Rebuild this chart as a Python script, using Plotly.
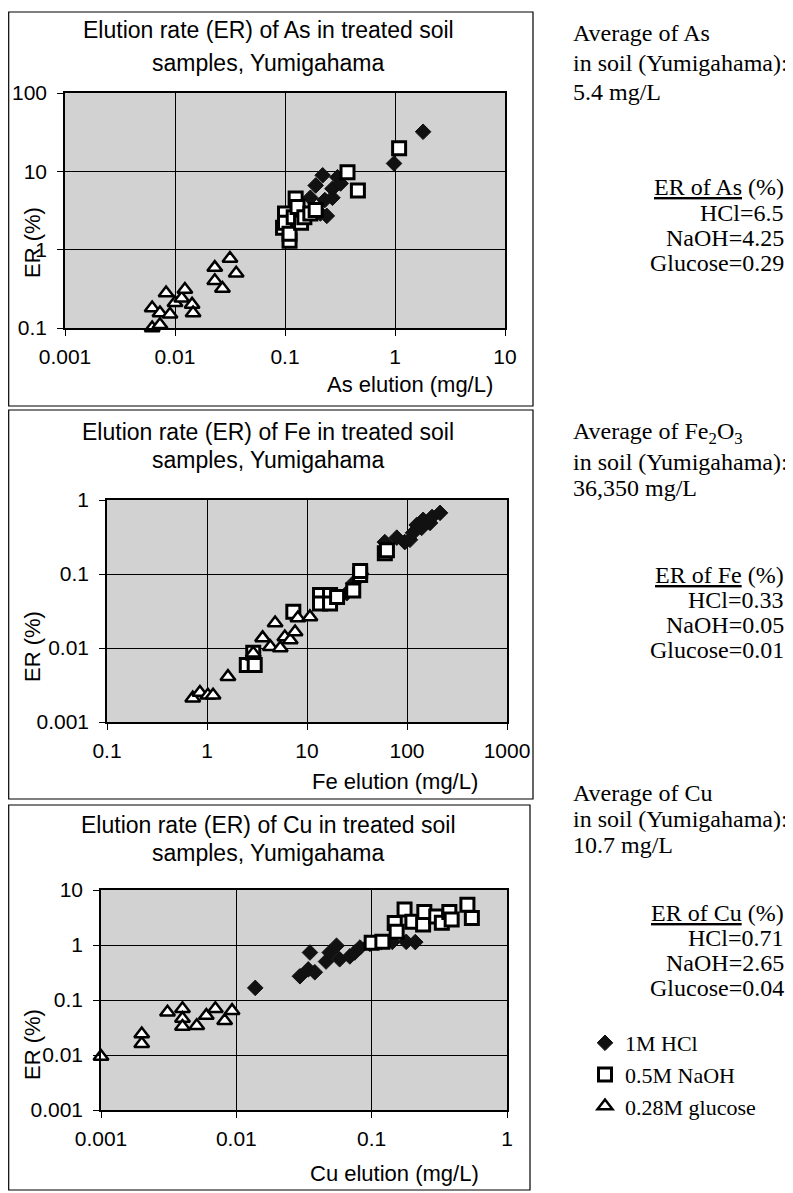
import plotly.graph_objects as go

# The page body has an 8px margin, so the figure is drawn 8px in from the window corner.
OFF = 8
W, H = 793 - OFF, 1193 - OFF

# ---------------- data ----------------
# As panel
as_hcl_x = [0.17, 0.19, 0.21, 0.22, 0.23, 0.24, 0.27, 0.27, 0.30, 0.32, 0.98, 1.8]
as_hcl_y = [4.6, 6.6, 2.9, 8.9, 4.3, 2.7, 4.6, 6.0, 8.4, 7.0, 12.6, 32]
as_naoh_x = [0.096, 0.10, 0.10, 0.11, 0.11, 0.12, 0.125, 0.13, 0.14, 0.15, 0.17, 0.19, 0.37, 0.46, 1.09]
as_naoh_y = [1.9, 2.9, 2.2, 1.3, 1.6, 2.6, 4.5, 3.5, 2.2, 2.6, 2.9, 3.2, 9.7, 5.7, 19.7]
as_glu_x = [0.0062, 0.0062, 0.0073, 0.0073, 0.0083, 0.0090, 0.010, 0.0115, 0.0123, 0.0143, 0.0146,
            0.023, 0.023, 0.027, 0.0316, 0.036]
as_glu_y = [0.10, 0.18, 0.11, 0.155, 0.28, 0.15, 0.21, 0.24, 0.31, 0.20, 0.155,
            0.59, 0.40, 0.32, 0.77, 0.50]

# Fe panel
fe_hcl_x = [25, 29, 35, 60, 79, 95, 107, 115, 125, 140, 145, 170, 178, 214]
fe_hcl_y = [0.055, 0.075, 0.10, 0.27, 0.31, 0.27, 0.29, 0.36, 0.46, 0.42, 0.54, 0.49, 0.59, 0.67]
fe_naoh_x = [2.5, 2.9, 3.0, 7.3, 13.5, 13.5, 17, 17, 20, 29, 34, 34, 60, 63]
fe_naoh_y = [0.0059, 0.0086, 0.0059, 0.031, 0.052, 0.040, 0.052, 0.040, 0.049, 0.060, 0.097, 0.11, 0.19, 0.21]
fe_glu_x = [0.72, 0.85, 1.02, 1.15, 1.62, 2.9, 3.6, 4.3, 4.8, 5.4, 6.0, 6.8, 7.6, 8.1, 10.7]
fe_glu_y = [0.0021, 0.0025, 0.0023, 0.0023, 0.0041, 0.0085, 0.0137, 0.0104, 0.0218, 0.0100,
            0.0141, 0.0128, 0.0164, 0.0254, 0.0263]

# Cu panel
cu_hcl_x = [0.0138, 0.0295, 0.034, 0.035, 0.038, 0.046, 0.049, 0.055, 0.058, 0.069, 0.075,
            0.082, 0.097, 0.118, 0.142, 0.18, 0.21]
cu_hcl_y = [0.166, 0.27, 0.36, 0.73, 0.32, 0.50, 0.73, 0.97, 0.55, 0.62, 0.73,
            0.90, 1.05, 1.13, 1.14, 1.14, 1.13]
cu_naoh_x = [0.10, 0.12, 0.148, 0.153, 0.175, 0.20, 0.24, 0.245, 0.30, 0.33, 0.375, 0.39, 0.51, 0.55]
cu_naoh_y = [1.10, 1.14, 2.5, 1.75, 4.4, 2.65, 2.35, 4.0, 3.3, 2.55, 4.0, 2.9, 5.4, 3.1]
cu_glu_x = [0.001, 0.002, 0.002, 0.0031, 0.004, 0.004, 0.004, 0.0051, 0.006, 0.007, 0.0082, 0.0093]
cu_glu_y = [0.0094, 0.016, 0.024, 0.060, 0.069, 0.046, 0.033, 0.034, 0.052, 0.069, 0.042, 0.064]

series_names = ["1M HCl", "0.5M NaOH", "0.28M glucose"]

# ticks
as_xticks = [0.001, 0.01, 0.1, 1, 10]
as_xtext = ["0.001", "0.01", "0.1", "1", "10"]
as_yticks = [0.1, 1, 10, 100]
as_ytext = ["0.1", "1", "10", "100"]
fe_xticks = [0.1, 1, 10, 100, 1000]
fe_xtext = ["0.1", "1", "10", "100", "1000"]
fe_yticks = [0.001, 0.01, 0.1, 1]
fe_ytext = ["0.001", "0.01", "0.1", "1"]
cu_xticks = [0.001, 0.01, 0.1, 1]
cu_xtext = ["0.001", "0.01", "0.1", "1"]
cu_yticks = [0.001, 0.01, 0.1, 1, 10]
cu_ytext = ["0.001", "0.01", "0.1", "1", "10"]

# side texts
titles = ["Elution rate (ER) of As in treated soil",
          "Elution rate (ER) of Fe in treated soil",
          "Elution rate (ER) of Cu in treated soil"]
subtitle = "samples, Yumigahama"
xtitles = ["As elution (mg/L)", "Fe elution (mg/L)", "Cu elution (mg/L)"]
avg_lines = [["Average of As", "in soil (Yumigahama):", "5.4 mg/L"],
             ["Average of Fe<sub>2</sub>O<sub>3</sub>", "in soil (Yumigahama):", "36,350 mg/L"],
             ["Average of Cu", "in soil (Yumigahama):", "10.7 mg/L"]]
er_heads = ["<u>ER of As</u> (%)", "<u>ER of Fe</u> (%)", "<u>ER of Cu</u> (%)"]
er_lines = [["HCl=6.5", "NaOH=4.25", "Glucose=0.29"],
            ["HCl=0.33", "NaOH=0.05", "Glucose=0.01"],
            ["HCl=0.71", "NaOH=2.65", "Glucose=0.04"]]

# ---------------- layout geometry (window pixels) ----------------
def px(x):
    return (x - OFF) / W

def py(y):
    return 1 - (y - OFF) / H

panels = [
    dict(data=[(as_hcl_x, as_hcl_y), (as_naoh_x, as_naoh_y), (as_glu_x, as_glu_y)],
         xt=(as_xticks, as_xtext), yt=(as_yticks, as_ytext),
         xr=[-3, 1], yr=[-1, 2], xd=(65, 505), yd=(93, 328),
         frame=(8.7, 12, 533, 406), t1=30, t2=63, xtit=(410, 384), ytit=243,
         avg=(33, 63, 92), er=(187, 213, 238, 263)),
    dict(data=[(fe_hcl_x, fe_hcl_y), (fe_naoh_x, fe_naoh_y), (fe_glu_x, fe_glu_y)],
         xt=(fe_xticks, fe_xtext), yt=(fe_yticks, fe_ytext),
         xr=[-1, 3], yr=[-3, 0], xd=(107, 507), yd=(500, 722),
         frame=(8.7, 410, 533, 799), t1=432, t2=460, xtit=(395, 781), ytit=647,
         avg=(433, 462, 488), er=(575, 600, 625, 650)),
    dict(data=[(cu_hcl_x, cu_hcl_y), (cu_naoh_x, cu_naoh_y), (cu_glu_x, cu_glu_y)],
         xt=(cu_xticks, cu_xtext), yt=(cu_yticks, cu_ytext),
         xr=[-3, 0], yr=[-3, 1], xd=(101, 507), yd=(890, 1110),
         frame=(8.7, 805, 530, 1190), t1=825, t2=853, xtit=(394, 1173), ytit=1045,
         avg=(793, 819, 845), er=(913, 938, 963, 988)),
]

marker_styles = [
    dict(symbol="diamond", size=12, color="#111111", line=dict(color="#111111", width=1)),
    dict(symbol="square", size=13, color="white", line=dict(color="black", width=3)),
    dict(symbol="triangle-up", size=13, color="white", line=dict(color="black", width=2.5)),
]

SANS = "Liberation Sans, Arial, sans-serif"
SERIF = "Liberation Serif, Times New Roman, serif"

fig = go.Figure()
annotations = []
shapes = []

for i, p in enumerate(panels):
    k = "" if i == 0 else str(i + 1)
    for j, (xs, ys) in enumerate(p["data"]):
        fig.add_trace(go.Scatter(
            x=xs, y=ys, mode="markers", name=series_names[j],
            marker=marker_styles[j], cliponaxis=False,
            showlegend=(i == 0), xaxis="x" + k, yaxis="y" + k))
    ax = dict(type="log", tickmode="array", showgrid=True, gridcolor="black", gridwidth=1.3,
              showline=True, linecolor="black", linewidth=1.5, mirror=True,
              ticks="outside", ticklen=6, tickcolor="black", tickwidth=1.3,
              tickfont=dict(family=SANS, size=21, color="black"), zeroline=False,
              automargin=False)
    xa = dict(ax, tickvals=p["xt"][0], ticktext=p["xt"][1], range=p["xr"],
              domain=[px(p["xd"][0]), px(p["xd"][1])], anchor="y" + k, ticklabelstandoff=3)
    ya = dict(ax, tickvals=p["yt"][0], ticktext=p["yt"][1], range=p["yr"],
              domain=[py(p["yd"][1]), py(p["yd"][0])], anchor="x" + k, ticklabelstandoff=6)
    fig.update_layout(**{"xaxis" + k: xa, "yaxis" + k: ya})

    x0, y0, x1, y1 = p["frame"]
    shapes.append(dict(type="rect", xref="paper", yref="paper", x0=px(x0), x1=px(x1),
                       y0=py(y1), y1=py(y0), line=dict(color="black", width=1.2),
                       fillcolor="rgba(0,0,0,0)", layer="below"))
    # chart titles
    annotations.append(dict(text=titles[i], x=px(268), y=py(p["t1"]), xref="paper", yref="paper",
                            showarrow=False, xanchor="center", yanchor="middle",
                            font=dict(family=SANS, size=23, color="black")))
    annotations.append(dict(text=subtitle, x=px(268), y=py(p["t2"]), xref="paper", yref="paper",
                            showarrow=False, xanchor="center", yanchor="middle",
                            font=dict(family=SANS, size=23, color="black")))
    # axis titles
    annotations.append(dict(text=xtitles[i], x=px(p["xtit"][0]), y=py(p["xtit"][1]),
                            xref="paper", yref="paper", showarrow=False,
                            xanchor="center", yanchor="middle",
                            font=dict(family=SANS, size=22, color="black")))
    annotations.append(dict(text="ER (%)", x=px(32), y=py(p["ytit"]), textangle=-90,
                            xref="paper", yref="paper", showarrow=False,
                            xanchor="center", yanchor="middle",
                            font=dict(family=SANS, size=22, color="black")))
    # right-hand notes
    for t, yy in zip(avg_lines[i], p["avg"]):
        annotations.append(dict(text=t, x=px(571), y=py(yy), xref="paper", yref="paper",
                                showarrow=False, xanchor="left", yanchor="middle",
                                font=dict(family=SERIF, size=24, color="black")))
    for t, yy in zip([er_heads[i]] + er_lines[i], p["er"]):
        annotations.append(dict(text=t, x=px(786), y=py(yy), xref="paper", yref="paper",
                                showarrow=False, xanchor="right", yanchor="middle",
                                font=dict(family=SERIF, size=24, color="black")))

fig.update_layout(
    template="none",
    width=W, height=H, margin=dict(l=0, r=0, t=0, b=0, autoexpand=False),
    paper_bgcolor="white", plot_bgcolor="#d2d2d2",
    font=dict(family=SANS, color="black"),
    annotations=annotations, shapes=shapes,
    legend=dict(x=px(585), y=py(1022), xanchor="left", yanchor="top",
                font=dict(family=SERIF, size=22, color="black"),
                bgcolor="rgba(0,0,0,0)", itemsizing="trace", tracegroupgap=0),
)

fig.write_html("out.html")
